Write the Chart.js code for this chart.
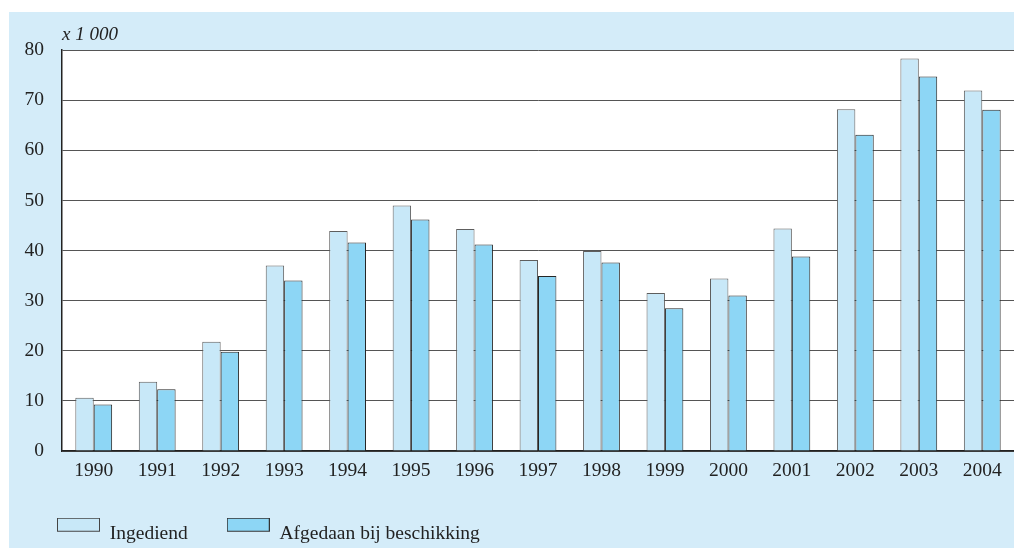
<!DOCTYPE html>
<html>
<head>
<meta charset="utf-8">
<script src="https://cdn.jsdelivr.net/npm/chart.js@4/dist/chart.umd.min.js"></script>
<style>
  body { margin: 0; background: #ffffff; }
  #wrap { position: absolute; left: 9px; top: 12px; width: 1005px; height: 536px; background: #d4ecf9; }
</style>
</head>
<body>
<div id="wrap"><canvas id="myChart"></canvas></div>
<script>
var years = ['1990', '1991', '1992', '1993', '1994', '1995', '1996', '1997', '1998', '1999', '2000', '2001', '2002', '2003', '2004'];
var ingediend = [10.6, 13.8, 21.8, 37.0, 43.9, 49.0, 44.3, 38.1, 39.9, 31.5, 34.4, 44.4, 68.2, 78.3, 71.9];
var afgedaan = [9.3, 12.3, 19.8, 34.0, 41.6, 46.2, 41.2, 34.9, 37.6, 28.5, 31.0, 38.8, 63.1, 74.7, 68.1];
var yTicks = [0, 10, 20, 30, 40, 50, 60, 70, 80];
var unitLabel = 'x 1 000';

var serif = "'Liberation Serif', 'DejaVu Serif', serif";
var fills = ['#c8e8f8', '#8dd6f5'];
var strokes = ['#5e5e5e', '#262626'];

// legend swatch: box sits a bit above the middle of the label text
function swatch(fill, stroke) {
    var c = document.createElement('canvas');
    c.width = 43;
    c.height = 32;
    var g = c.getContext('2d');
    g.fillStyle = fill;
    g.fillRect(0.5, 0.5, 42, 13);
    g.strokeStyle = stroke;
    g.lineWidth = 1;
    g.strokeRect(0.5, 0.5, 42, 13);
    return c;
}
var swatches = [swatch(fills[0], '#444'), swatch(fills[1], '#333')];

// white plot area on the blue panel
var plotBg = {
    id: 'plotBg',
    beforeDraw: function (chart) {
        var a = chart.chartArea;
        chart.ctx.save();
        chart.ctx.fillStyle = '#ffffff';
        chart.ctx.fillRect(a.left, a.top, a.right - a.left, a.bottom - a.top);
        chart.ctx.restore();
    }
};

// "x 1 000" above the plot, at the left edge of the chart area
var unitPlugin = {
    id: 'unitLabel',
    afterDraw: function (chart) {
        var ctx = chart.ctx;
        ctx.save();
        ctx.font = 'italic 19px ' + serif;
        ctx.fillStyle = '#222';
        ctx.textAlign = 'left';
        ctx.textBaseline = 'alphabetic';
        ctx.fillText(unitLabel, chart.chartArea.left, chart.chartArea.top - 10);
        ctx.restore();
    }
};

var ctx = document.getElementById('myChart');

var myChart = new Chart(ctx, {
    type: 'bar',
    data: {
        labels: years,
        datasets: [{
            label: 'Ingediend',
            data: ingediend,
            backgroundColor: fills[0],
            borderColor: strokes[0],
            borderWidth: 1
        }, {
            label: 'Afgedaan bij beschikking',
            data: afgedaan,
            backgroundColor: fills[1],
            borderColor: strokes[1],
            borderWidth: 1
        }]
    },
    options: {
        responsive: true,
        maintainAspectRatio: false,
        animation: false,
        layout: { padding: { left: 9, top: 38, right: 0, bottom: 0 } },
        datasets: { bar: { categoryPercentage: 0.58, barPercentage: 1 } },
        scales: {
            x: {
                grid: { display: false, drawTicks: false },
                border: { color: '#222', width: 1.5 },
                ticks: { color: '#222', padding: 8, font: { family: serif, size: 19.5 } },
                afterFit: function (scale) { scale.height = 34; }
            },
            y: {
                min: 0,
                max: 80,
                afterBuildTicks: function (scale) {
                    scale.ticks = yTicks.map(function (v) { return { value: v }; });
                },
                grid: { color: '#555', lineWidth: 1, drawTicks: false },
                border: { color: '#222', width: 1.5 },
                ticks: { color: '#222', padding: 18, font: { family: serif, size: 19.5 } },
                afterFit: function (scale) { scale.width = 44; }
            }
        },
        plugins: {
            legend: {
                position: 'bottom',
                align: 'start',
                maxHeight: 63,
                labels: {
                    usePointStyle: true,
                    pointStyleWidth: 43,
                    padding: 39,
                    color: '#222',
                    font: { family: serif, size: 19.5 },
                    generateLabels: function (chart) {
                        var items = Chart.defaults.plugins.legend.labels.generateLabels(chart);
                        items.forEach(function (it, i) { it.pointStyle = swatches[i]; });
                        return items;
                    }
                }
            },
            tooltip: { enabled: false }
        }
    },
    plugins: [plotBg, unitPlugin]
});
</script>
</body>
</html>
